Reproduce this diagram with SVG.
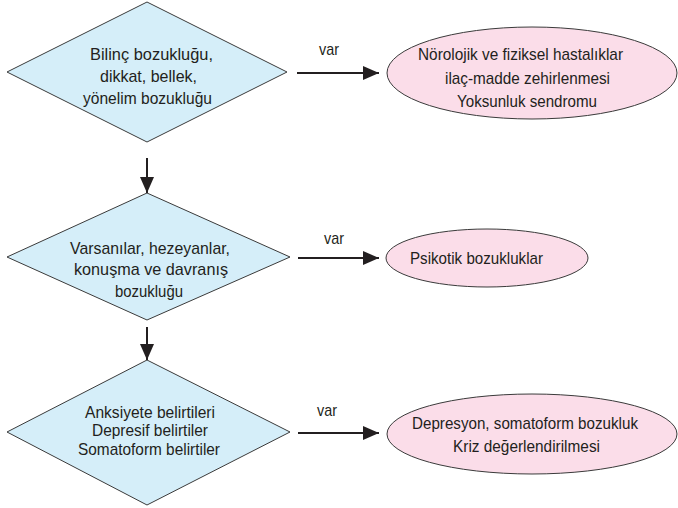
<svg xmlns="http://www.w3.org/2000/svg" width="678" height="508" viewBox="0 0 678 508">
<style>
.dia{fill:#d5eef9;stroke:#3a3a3a;stroke-width:1}
.ell{fill:#fbdde9;stroke:#3a3a3a;stroke-width:1}
.t{font-family:"Liberation Sans",Arial,sans-serif;font-size:17px;fill:#231f20;text-anchor:middle}
.c{stroke:#231f20;stroke-width:2;fill:none;marker-end:url(#ah)}
</style>
<defs>
<marker id="ah" markerUnits="userSpaceOnUse" markerWidth="17" markerHeight="14" refX="16" refY="7" orient="auto">
<path d="M0,0 L16,7 L0,14 z" fill="#231f20"/>
</marker>
</defs>
<rect width="678" height="508" fill="#ffffff"/>
<g id="connectors">
<line class="c" x1="297" y1="73" x2="379" y2="73"/>
<line class="c" x1="147" y1="158" x2="147" y2="193"/>
<line class="c" x1="298" y1="258" x2="379" y2="258"/>
<line class="c" x1="147" y1="327" x2="147" y2="360"/>
<line class="c" x1="298" y1="433" x2="379" y2="433"/>
<text class="t" x="329" y="55" textLength="20" lengthAdjust="spacingAndGlyphs">var</text>
<text class="t" x="334" y="244" textLength="20" lengthAdjust="spacingAndGlyphs">var</text>
<text class="t" x="327" y="416" textLength="20" lengthAdjust="spacingAndGlyphs">var</text>
</g>
<g id="d1">
<polygon class="dia" points="147,2 287,72 147,142 7,72"/>
<text class="t" x="151.5" y="60" textLength="123" lengthAdjust="spacingAndGlyphs">Bilinç bozukluğu,</text>
<text class="t" x="148.5" y="82" textLength="97" lengthAdjust="spacingAndGlyphs">dikkat, bellek,</text>
<text class="t" x="147.5" y="104" textLength="129" lengthAdjust="spacingAndGlyphs">yönelim bozukluğu</text>
</g>
<g id="e1">
<ellipse class="ell" cx="532" cy="73" rx="145" ry="46"/>
<text class="t" x="520.5" y="60" textLength="205" lengthAdjust="spacingAndGlyphs">Nörolojik ve fiziksel hastalıklar</text>
<text class="t" x="527.5" y="84" textLength="165" lengthAdjust="spacingAndGlyphs">ilaç-madde zehirlenmesi</text>
<text class="t" x="527" y="107" textLength="140" lengthAdjust="spacingAndGlyphs">Yoksunluk sendromu</text>
</g>
<g id="d2">
<polygon class="dia" points="147,193 290,257 147,320 7,257"/>
<text class="t" x="150" y="254" textLength="160" lengthAdjust="spacingAndGlyphs">Varsanılar, hezeyanlar,</text>
<text class="t" x="151" y="275" textLength="154" lengthAdjust="spacingAndGlyphs">konuşma ve davranış</text>
<text class="t" x="149" y="297" textLength="68" lengthAdjust="spacingAndGlyphs">bozukluğu</text>
</g>
<g id="e2">
<ellipse class="ell" cx="487" cy="258" rx="101" ry="29"/>
<text class="t" x="476.5" y="264" textLength="133" lengthAdjust="spacingAndGlyphs">Psikotik bozukluklar</text>
</g>
<g id="d3">
<polygon class="dia" points="147,360 290,432 147,505 7,432"/>
<text class="t" x="150" y="418" textLength="130" lengthAdjust="spacingAndGlyphs">Anksiyete belirtileri</text>
<text class="t" x="150" y="436" textLength="116" lengthAdjust="spacingAndGlyphs">Depresif belirtiler</text>
<text class="t" x="149" y="455" textLength="142" lengthAdjust="spacingAndGlyphs">Somatoform belirtiler</text>
</g>
<g id="e3">
<ellipse class="ell" cx="532" cy="434" rx="145" ry="40"/>
<text class="t" x="525" y="429" textLength="226" lengthAdjust="spacingAndGlyphs">Depresyon, somatoform bozukluk</text>
<text class="t" x="526.5" y="452" textLength="147" lengthAdjust="spacingAndGlyphs">Kriz değerlendirilmesi</text>
</g>
</svg>
